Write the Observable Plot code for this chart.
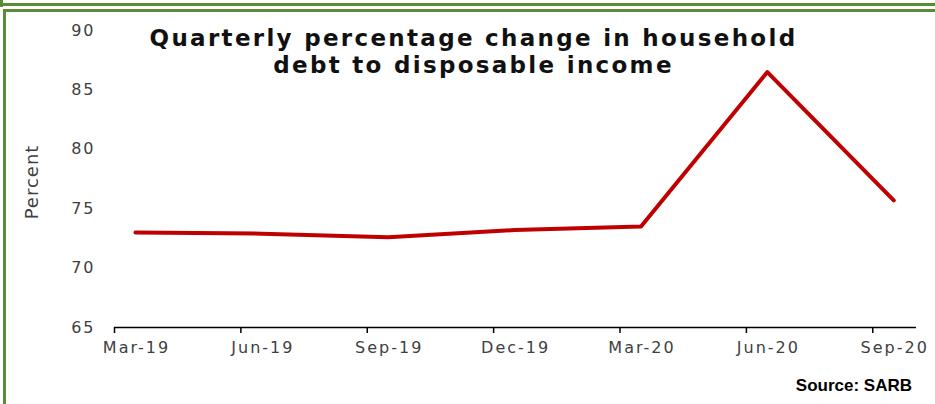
<!DOCTYPE html>
<html>
<head>
<meta charset="utf-8">
<script src="https://cdn.jsdelivr.net/npm/d3@7"></script>
<script src="https://cdn.jsdelivr.net/npm/@observablehq/plot@0.6"></script>
<style>
  html, body { margin: 0; padding: 0; background: #fff; }
  #wrap { position: relative; width: 935px; height: 404px; overflow: hidden; background: #fff; }
  .frame { position: absolute; background: #5b8b34; }
  #title {
    position: absolute; left: 0; width: 947px; top: 25px; text-align: center;
    font-family: "DejaVu Sans", sans-serif; font-weight: bold; font-size: 23px;
    letter-spacing: 2.3px; line-height: 27px; color: #111;
  }
  #ylabel {
    position: absolute; left: 31px; top: 182px; transform: translate(-50%, -50%) rotate(-90deg);
    font-family: "DejaVu Sans", sans-serif; font-size: 18px; letter-spacing: 1px;
    color: #404040; white-space: nowrap;
  }
  #source {
    position: absolute; right: 23px; top: 376px;
    font-family: "Liberation Sans Narrow", "Liberation Sans", sans-serif; font-weight: bold;
    font-size: 17px; color: #000;
  }
  #chart svg { position: absolute; left: 0; top: 0; }
  #chart svg text { letter-spacing: 2px; }
</style>
</head>
<body>
<div id="wrap">
  <div id="chart"></div>
  <div class="frame" style="left:0;top:0;width:3px;height:7px"></div>
  <div class="frame" style="left:0;top:3px;width:935px;height:3px"></div>
  <div class="frame" style="left:3px;top:9px;width:932px;height:3px"></div>
  <div class="frame" style="left:3px;top:9px;width:3px;height:395px"></div>
  <div id="title">Quarterly percentage change in household<br>debt to disposable income</div>
  <div id="ylabel">Percent</div>
  <div id="source">Source: SARB</div>
</div>
<script>
// Quarter labels along the x axis
const quarters = ["Mar-19", "Jun-19", "Sep-19", "Dec-19", "Mar-20", "Jun-20", "Sep-20"];
// Household debt to disposable income, percent
const debtRatio = [73.0, 72.9, 72.6, 73.2, 73.5, 86.5, 75.7];
// Y axis tick values
const yTicks = [65, 70, 75, 80, 85, 90];

const rows = quarters.map((q, i) => ({i, q, v: debtRatio[i]}));
const idx = quarters.map((_, i) => i);
// tick marks sit between categories, slightly left of each label
const tickShift = 0.166;
const tickMarks = idx.map(i => i - tickShift);

const axisFont = "DejaVu Sans, sans-serif";

const chart = Plot.plot({
  width: 935,
  height: 404,
  marginTop: 30,
  marginBottom: 77,
  marginLeft: 114,
  marginRight: 19,
  style: {fontFamily: axisFont, fontSize: "16px", color: "#404040", background: "transparent"},
  x: {type: "linear", domain: [-tickShift, 6.18], axis: null},
  y: {domain: [65, 90], axis: null},
  marks: [
    Plot.axisY(yTicks, {tickSize: 0, tickPadding: 19, label: null, fill: "#404040", fontSize: 16}),
    Plot.axisX(idx, {tickSize: 0, tickPadding: 14, dx: 1, label: null, tickFormat: i => quarters[i], fill: "#404040", fontSize: 16}),
    Plot.axisX(tickMarks, {tickSize: 6, tickFormat: () => "", label: null, stroke: "#000", strokeWidth: 1.5}),
    Plot.ruleY([65], {stroke: "#000", strokeWidth: 1.5}),
    Plot.line(rows, {x: "i", y: "v", stroke: "#c00000", strokeWidth: 4, strokeLinejoin: "round", strokeLinecap: "round"})
  ]
});
document.getElementById("chart").appendChild(chart);
</script>
</body>
</html>
